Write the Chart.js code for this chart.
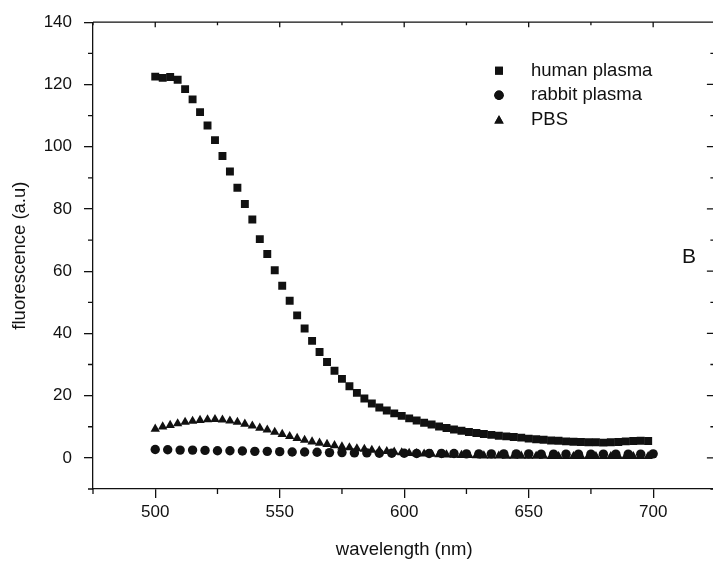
<!DOCTYPE html>
<html>
<head>
<meta charset="utf-8">
<script src="https://cdn.jsdelivr.net/npm/chart.js@4.4.1/dist/chart.umd.min.js"></script>
<style>
  html, body { margin: 0; padding: 0; background: #fff; }
  #wrap { width: 713px; height: 568px; overflow: hidden; }
  canvas { display: block; }
</style>
</head>
<body>
<div id="wrap"><canvas id="spectra" width="721" height="568"></canvas></div>
<script>
// wavelengths (nm) sampled every 3 nm (human plasma, PBS) and every 5 nm (rabbit plasma)
const WAVE_3NM = [500,503,506,509,512,515,518,521,524,527,530,533,536,539,542,545,548,551,554,557,
  560,563,566,569,572,575,578,581,584,587,590,593,596,599,602,605,608,611,614,617,
  620,623,626,629,632,635,638,641,644,647,650,653,656,659,662,665,668,671,674,677,
  680,683,686,689,692,695,698];
const WAVE_5NM = [500,505,510,515,520,525,530,535,540,545,550,555,560,565,570,575,580,585,590,595,
  600,605,610,615,620,625,630,635,640,645,650,655,660,665,670,675,680,685,690,695,700];

const HUMAN_PLASMA = [122.5,122.1,122.4,121.5,118.5,115.2,111.1,106.8,102.1,97.0,
  92.0,86.8,81.6,76.6,70.3,65.5,60.3,55.3,50.5,45.8,
  41.6,37.6,34.0,30.8,28.0,25.4,23.0,20.9,19.1,17.5,
  16.2,15.2,14.3,13.5,12.7,12.0,11.3,10.7,10.1,9.6,
  9.1,8.7,8.3,8.0,7.7,7.4,7.1,6.9,6.7,6.5,
  6.2,6.0,5.8,5.6,5.5,5.3,5.2,5.1,5.0,5.0,
  4.9,5.0,5.1,5.3,5.4,5.5,5.4];
const PBS = [9.3,10.0,10.5,11.0,11.5,11.8,12.1,12.3,12.4,12.2,
  11.9,11.5,10.9,10.3,9.6,9.0,8.3,7.6,6.9,6.3,
  5.7,5.2,4.8,4.4,4.0,3.6,3.3,3.0,2.8,2.5,
  2.3,2.1,1.9,1.7,1.5,1.4,1.3,1.2,1.1,1.0,
  0.9,0.85,0.8,0.75,0.7,0.7,0.65,0.6,0.6,0.6,
  0.55,0.55,0.55,0.5,0.5,0.5,0.5,0.5,0.5,0.5,
  0.5,0.5,0.5,0.5,0.5,0.5,0.5];
const RABBIT_PLASMA = [2.7,2.6,2.5,2.5,2.4,2.3,2.3,2.2,2.1,2.1,
  2.0,1.9,1.9,1.8,1.7,1.7,1.6,1.6,1.5,1.5,
  1.5,1.4,1.4,1.4,1.4,1.3,1.3,1.3,1.3,1.3,
  1.3,1.2,1.2,1.2,1.2,1.2,1.2,1.2,1.2,1.2,1.3];

const SERIES = ['human plasma', 'rabbit plasma', 'PBS'];
const X_TICKS = [500, 550, 600, 650, 700];
const X_MINOR = [475, 525, 575, 625, 675, 725];
const Y_TICKS = [0, 20, 40, 60, 80, 100, 120, 140];
const Y_MINOR = [-10, 10, 30, 50, 70, 90, 110, 130];
const PANEL = 'B';

const FONT = '"Liberation Sans", Arial, sans-serif';
const INK = '#111';

const pts = (xs, ys) => xs.map((x, i) => ({ x, y: ys[i] }));

function marker(ctx, style, r, x, y) {
  if (Chart.helpers && Chart.helpers.drawPoint) {
    Chart.helpers.drawPoint(ctx, { pointStyle: style, radius: r, rotation: 0, borderWidth: 0 }, x, y);
    ctx.fill();
  }
}

// box frame, minor ticks, legend and panel letter
const frame = {
  id: 'frame',
  afterDraw(chart) {
    const { ctx, chartArea: { left, right, top, bottom }, scales: { x, y } } = chart;
    ctx.save();
    ctx.strokeStyle = INK; ctx.lineWidth = 1.3;
    ctx.beginPath();
    ctx.moveTo(left, top); ctx.lineTo(right, top); ctx.lineTo(right, bottom);
    X_MINOR.forEach(v => { const px = x.getPixelForValue(v); ctx.moveTo(px, bottom); ctx.lineTo(px, bottom + 5); ctx.moveTo(px, top); ctx.lineTo(px, top + 3); });
    X_TICKS.forEach(v => { const px = x.getPixelForValue(v); ctx.moveTo(px, top); ctx.lineTo(px, top + 5); });
    Y_MINOR.forEach(v => { const py = y.getPixelForValue(v); ctx.moveTo(left, py); ctx.lineTo(left - 5, py); ctx.moveTo(right, py); ctx.lineTo(right - 5, py); });
    Y_TICKS.forEach(v => { const py = y.getPixelForValue(v); ctx.moveTo(right, py); ctx.lineTo(right - 8.5, py); });
    ctx.stroke();

    // legend
    ctx.fillStyle = INK;
    ctx.font = `18.5px ${FONT}`;
    ctx.textBaseline = 'middle';
    ctx.textAlign = 'left';
    chart.data.datasets.forEach((ds, i) => {
      const ly = 70.7 + i * 24.5;
      marker(ctx, ds.pointStyle, ds.pointRadius, 499, ly + (ds.pointStyle === 'triangle' ? 1 : 0));
      ctx.fillText(ds.label, 531, ly);
    });

    ctx.font = `21px ${FONT}`;
    ctx.textAlign = 'center';
    ctx.fillText(PANEL, 689, 257);
    ctx.restore();
  }
};

new Chart(document.getElementById('spectra'), {
  type: 'scatter',
  data: {
    datasets: [
      { label: SERIES[0], data: pts(WAVE_3NM, HUMAN_PLASMA), pointStyle: 'rect', pointRadius: 5.6, backgroundColor: INK, borderWidth: 0 },
      { label: SERIES[1], data: pts(WAVE_5NM, RABBIT_PLASMA), pointStyle: 'circle', pointRadius: 4.7, backgroundColor: INK, borderWidth: 0 },
      { label: SERIES[2], data: pts(WAVE_3NM, PBS), pointStyle: 'triangle', pointRadius: 5.4, backgroundColor: INK, borderWidth: 0 }
    ]
  },
  options: {
    responsive: false,
    animation: false,
    devicePixelRatio: 1,
    layout: { padding: { top: 21, right: 1, left: 0, bottom: 0 } },
    plugins: { legend: { display: false }, tooltip: { enabled: false } },
    scales: {
      x: {
        type: 'linear', min: 475, max: 725,
        afterBuildTicks: s => { s.ticks = X_TICKS.map(v => ({ value: v })); },
        afterFit: s => { s.height = 79; },
        grid: { display: true, drawOnChartArea: false, drawTicks: true, tickLength: 9, color: INK, lineWidth: 1.3 },
        border: { display: true, color: INK, width: 1.3 },
        ticks: { padding: 4, color: INK, font: { family: FONT, size: 17 }, maxRotation: 0, autoSkip: false },
        title: { display: true, text: 'wavelength (nm)', color: INK, font: { family: FONT, size: 18.5 }, padding: { top: 0, bottom: 7 } }
      },
      y: {
        type: 'linear', min: -10, max: 140,
        afterBuildTicks: s => { s.ticks = Y_TICKS.map(v => ({ value: v })); },
        afterFit: s => { s.width = 93; },
        grid: { display: true, drawOnChartArea: false, drawTicks: true, tickLength: 9, color: INK, lineWidth: 1.3 },
        border: { display: true, color: INK, width: 1.3 },
        ticks: { padding: 12, color: INK, font: { family: FONT, size: 17 }, autoSkip: false },
        title: { display: true, text: 'fluorescence (a.u)', color: INK, font: { family: FONT, size: 18.5 }, padding: { top: 9, bottom: 0 } }
      }
    }
  },
  plugins: [frame]
});
</script>
</body>
</html>
